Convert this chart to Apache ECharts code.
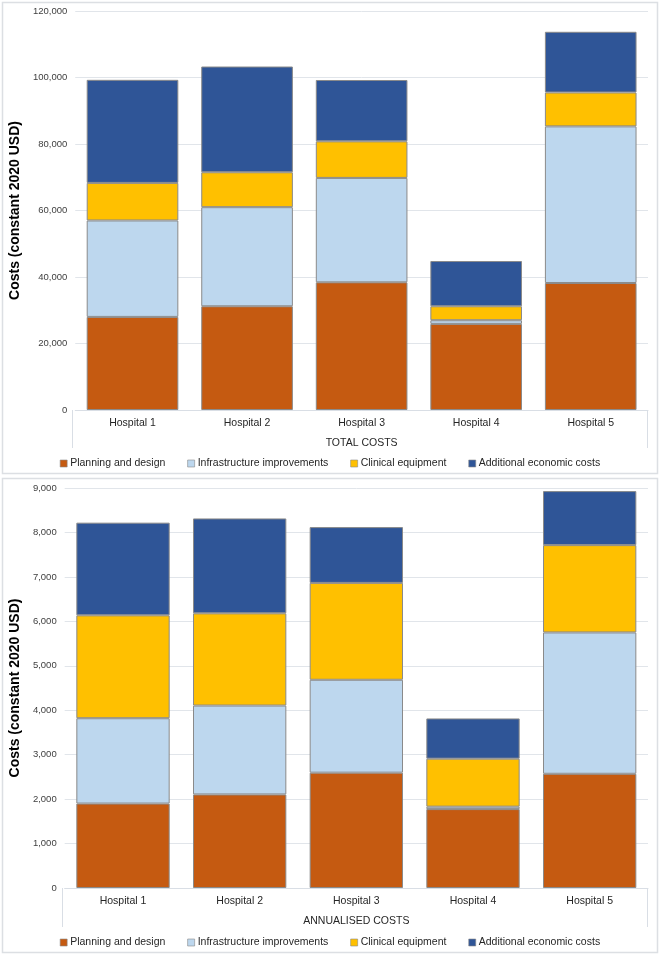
<!DOCTYPE html>
<html>
<head>
<meta charset="utf-8">
<script src="https://cdn.jsdelivr.net/npm/echarts@6/dist/echarts.min.js"></script>
<style>
html,body{margin:0;padding:0;background:#fff;}
#c{width:660px;height:956px;}
</style>
</head>
<body>
<div id="c"></div>
<script>
const categories = ['Hospital 1', 'Hospital 2', 'Hospital 3', 'Hospital 4', 'Hospital 5'];
const seriesNames = ['Planning and design', 'Infrastructure improvements', 'Clinical equipment', 'Additional economic costs'];

// TOTAL COSTS
const totalPlanning = [28000, 31200, 38400, 25900, 38200];
const totalInfra = [29000, 29800, 31400, 1100, 47100];
const totalClinical = [11300, 10500, 11000, 4200, 10200];
const totalAdditional = [31000, 31800, 18450, 13600, 18250];

// ANNUALISED COSTS
const annPlanning = [1900, 2105, 2595, 1775, 2570];
const annInfra = [1920, 2000, 2090, 55, 3180];
const annClinical = [2315, 2075, 2180, 1080, 1965];
const annAdditional = [2085, 2135, 1255, 905, 1215];

const totalTicks = [0, 120000, 20000];
const annTicks = [0, 9000, 1000];
const chartTitles = ['TOTAL COSTS', 'ANNUALISED COSTS'];
const yTitle = 'Costs (constant 2020 USD)';

const colors = ['#C55A11', '#BDD7EE', '#FFC000', '#2F5597'];
const FONT = 'Liberation Sans, Arial, sans-serif';

const chart = echarts.init(document.getElementById('c'), null, {renderer: 'canvas'});

function yAxis(gi, ticks, gap) {
  return {
    gridIndex: gi, type: 'value', min: ticks[0], max: ticks[1], interval: ticks[2],
    name: yTitle, nameLocation: 'middle', nameRotate: 90, nameGap: gap,
    nameTextStyle: {fontFamily: FONT, fontSize: 14, fontWeight: 'bold', color: '#000'},
    axisLine: {show: false}, axisTick: {show: false},
    axisLabel: {fontFamily: FONT, fontSize: 9.5, color: '#404040', margin: 8,
      formatter: v => v.toLocaleString('en-US')},
    splitLine: {lineStyle: {color: '#e1e5ea', width: 1}}
  };
}
function xAxis(gi, title) {
  return {
    gridIndex: gi, type: 'category', data: categories,
    name: title, nameLocation: 'middle', nameGap: 28,
    nameTextStyle: {fontFamily: FONT, fontSize: 10.5, color: '#262626'},
    axisLine: {show: true, lineStyle: {color: '#d9dee5'}}, axisTick: {show: false},
    axisLabel: {fontFamily: FONT, fontSize: 10.5, color: '#262626', margin: 8}
  };
}
function mk(name, data, i, xi) {
  return {
    name: name, type: 'bar', stack: 's' + xi, xAxisIndex: xi, yAxisIndex: xi,
    data: data, barCategoryGap: '20%',
    itemStyle: {color: colors[i], borderColor: '#8a8a8a', borderWidth: 1},
    emphasis: {disabled: true}
  };
}
function legend(top) {
  return {
    top: top, left: 'center', data: seriesNames, icon: 'rect',
    itemWidth: 7, itemHeight: 7, itemGap: 22,
    itemStyle: {borderWidth: 0.6},
    textStyle: {fontFamily: FONT, fontSize: 10.5, color: '#262626', padding: [0, 0, 0, -2]},
    selectedMode: false
  };
}

const option = {
  animation: false,
  backgroundColor: '#fff',
  color: colors,
  grid: [
    {left: 72, right: 12, top: 11, height: 399},
    {left: 62, right: 12, top: 488, height: 400}
  ],
  xAxis: [xAxis(0, chartTitles[0]), xAxis(1, chartTitles[1])],
  yAxis: [yAxis(0, totalTicks, 50), yAxis(1, annTicks, 40)],
  legend: [legend(453), legend(932)],
  series: [
    mk(seriesNames[0], totalPlanning, 0, 0),
    mk(seriesNames[1], totalInfra, 1, 0),
    mk(seriesNames[2], totalClinical, 2, 0),
    mk(seriesNames[3], totalAdditional, 3, 0),
    mk(seriesNames[0], annPlanning, 0, 1),
    mk(seriesNames[1], annInfra, 1, 1),
    mk(seriesNames[2], annClinical, 2, 1),
    mk(seriesNames[3], annAdditional, 3, 1)
  ],
  graphic: [
    {type: 'rect', shape: {x: 2.5, y: 2.5, width: 655, height: 471}, style: {fill: 'none', stroke: '#dcdfe3', lineWidth: 1.5}, silent: true, z: -1},
    {type: 'rect', shape: {x: 2.5, y: 478.5, width: 655, height: 474}, style: {fill: 'none', stroke: '#dcdfe3', lineWidth: 1.5}, silent: true, z: -1},
    {type: 'line', shape: {x1: 72.5, y1: 410, x2: 72.5, y2: 448}, style: {stroke: '#d9dee5', lineWidth: 1}, silent: true},
    {type: 'line', shape: {x1: 647.5, y1: 410, x2: 647.5, y2: 448}, style: {stroke: '#d9dee5', lineWidth: 1}, silent: true},
    {type: 'line', shape: {x1: 62.5, y1: 888, x2: 62.5, y2: 927}, style: {stroke: '#d9dee5', lineWidth: 1}, silent: true},
    {type: 'line', shape: {x1: 647.5, y1: 888, x2: 647.5, y2: 927}, style: {stroke: '#d9dee5', lineWidth: 1}, silent: true}
  ]
};
chart.setOption(option);
</script>
</body>
</html>
